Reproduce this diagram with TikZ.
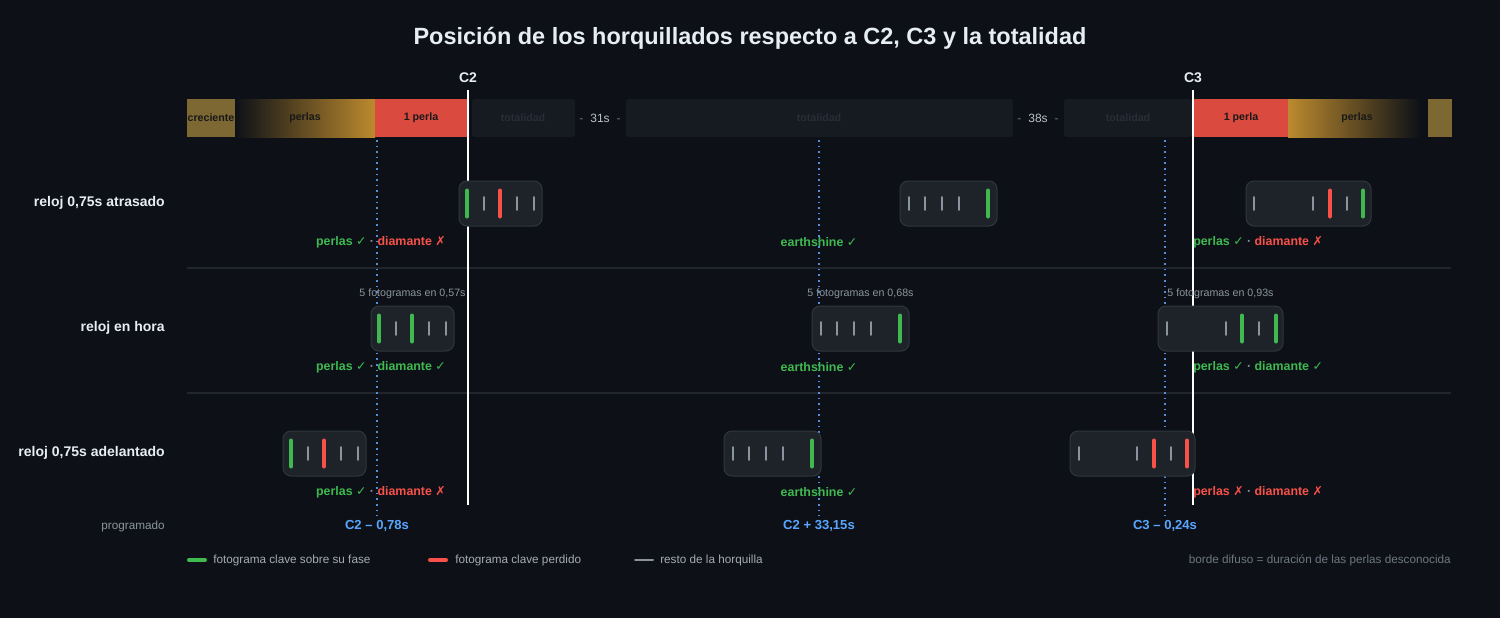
\documentclass[tikz,border=0pt]{standalone}
\usepackage{fontspec}
\setmainfont{Liberation Sans}
\newfontfamily\symfont{DejaVu Sans}

\definecolor{bg}{HTML}{0D1117}
\definecolor{fg}{HTML}{E6EDF3}
\definecolor{dimc}{HTML}{8B949E}
\definecolor{faintc}{HTML}{6E7681}
\definecolor{okc}{HTML}{3FB950}
\definecolor{lostc}{HTML}{F85149}
\definecolor{perlac}{HTML}{DA4A3F}
\definecolor{goldc}{HTML}{BC8A2E}
\definecolor{olivec}{HTML}{7D6833}
\definecolor{totc}{HTML}{161B22}
\definecolor{tottext}{HTML}{272E38}
\definecolor{boxfill}{HTML}{1E232A}
\definecolor{boxline}{HTML}{30363D}
\definecolor{schedc}{HTML}{4F8FDB}
\definecolor{progc}{HTML}{58A6FF}
\definecolor{sepc}{HTML}{21262D}

\newcommand{\ok}{{\symfont ✓}}
\newcommand{\ko}{{\symfont ✗}}
\newcommand{\dotsep}{\textcolor{dimc}{·}}

\tikzset{
  titletext/.style={font=\bfseries\fontsize{17.6}{20}\selectfont, text=fg},
  phaselbl/.style={font=\bfseries\fontsize{10.5}{12}\selectfont, text=fg},
  bartext/.style={font=\bfseries\fontsize{8}{9}\selectfont, text=black!90},
  tottxt/.style={font=\bfseries\fontsize{8}{9}\selectfont, text=tottext},
  gaptxt/.style={font=\fontsize{9}{10}\selectfont, text=fg!80!bg},
  rowlabel/.style={anchor=east, inner xsep=0pt, font=\bfseries\fontsize{10.5}{12}\selectfont, text=fg},
  verdict/.style={font=\bfseries\fontsize{9.3}{11}\selectfont},
  caption/.style={font=\fontsize{8}{9}\selectfont, text=dimc},
  prog/.style={font=\bfseries\fontsize{9.8}{11}\selectfont, text=progc},
  legend/.style={anchor=west, inner xsep=0pt, font=\fontsize{8.8}{10}\selectfont, text=fg!70!bg},
  phaseline/.style={draw=white, line width=1.5pt},
  sched/.style={draw=schedc, line width=0.9pt, dash pattern=on 1.2pt off 3pt},
  sep/.style={draw=sepc, line width=0.9pt},
  hbox/.style={draw=boxline, fill=boxfill, line width=0.75pt, rounded corners=6pt},
  keyok/.style={draw=okc, line width=3pt, line cap=round},
  keylost/.style={draw=lostc, line width=3pt, line cap=round},
  rest/.style={draw=dimc, line width=1.5pt, line cap=round, shorten <=4.9pt, shorten >=4.9pt},
}

\begin{document}
\begin{tikzpicture}[x=0.75pt,y=-0.75pt]
\fill[bg] (0,0) rectangle (1500,618);
\useasboundingbox (0,0) rectangle (1500,618);

% title
\node[titletext] (title) at (750,38) {Posición de los horquillados respecto a C2, C3 y la totalidad};

% phase bar
\fill[olivec] (187,99) rectangle (235,137);
\shade[left color=bg, right color=goldc] (235,99) rectangle (375,137);
\fill[perlac] (375,99) rectangle (468,137);
\fill[totc, rounded corners=2pt] (472,99) rectangle (575,137);
\fill[totc, rounded corners=2pt] (626,99) rectangle (1013,137);
\fill[totc, rounded corners=2pt] (1064,99) rectangle (1192,137);
\fill[perlac] (1194,99) rectangle (1288,137);
\shade[left color=goldc, right color=bg] (1288,99) rectangle (1420,137);
\fill[olivec] (1428,99) rectangle (1452,137);

\node[bartext] (creciente) at (211,118) {creciente};
\node[bartext] (perlasL) at (305,118) {perlas};
\node[bartext] (perlaL) at (421,118) {1 perla};
\node[tottxt] (totA) at (523,118) {totalidad};
\node[gaptxt] (gapA) at (600,118) {\makebox[31pt]{\textcolor{faintc}{-}\hfill 31s\hfill\textcolor{faintc}{-}}};
\node[tottxt] (totB) at (819,118) {totalidad};
\node[gaptxt] (gapB) at (1038,118) {\makebox[31pt]{\textcolor{faintc}{-}\hfill 38s\hfill\textcolor{faintc}{-}}};
\node[tottxt] (totC) at (1128,118) {totalidad};
\node[bartext] (perlaR) at (1241,118) {1 perla};
\node[bartext] (perlasR) at (1357,118) {perlas};

% rows
\node[rowlabel] (atrasado) at (165,203) {reloj 0,75s atrasado};
\node[rowlabel] (enhora) at (165,328) {reloj en hora};
\node[rowlabel] (adelantado) at (165,453) {reloj 0,75s adelantado};
\node[rowlabel, font=\fontsize{8.8}{10}\selectfont, text=dimc] (programado) at (165,526) {programado};

\draw[sep] (187,268) -- (1451,268);
\draw[sep] (187,393) -- (1451,393);

% scheduled instants
\node[prog] (progA) at (377,526) {C2 – 0,78s};
\node[prog] (progB) at (819,526) {C2 + 33,15s};
\node[prog] (progC) at (1165,526) {C3 – 0,24s};
\coordinate (schedA) at (377,140);
\coordinate (schedB) at (819,140);
\coordinate (schedC) at (1165,140);
\draw[sched] (schedA) -- (progA.north);
\draw[sched] (schedB) -- (progB.north);
\draw[sched] (schedC) -- (progC.north);

% contacts
\node[phaselbl] (C2) at (468,78) {C2};
\node[phaselbl] (C3) at (1193,78) {C3};
\coordinate (C2top) at (468,90);
\coordinate (C2bot) at (468,505);
\coordinate (C3top) at (1193,90);
\coordinate (C3bot) at (1193,505);
\draw[phaseline] (C2top) -- (C2bot);
\draw[phaseline] (C3top) -- (C3bot);

% brackets, clock late
\draw[hbox] (459,181) rectangle (542,226);
\foreach \x/\s in {467/keyok,484/rest,500/keylost,517/rest,534/rest}
  \draw[\s] (\x,190.5) -- (\x,216.5);
\draw[hbox] (900,181) rectangle (997,226);
\foreach \x/\s in {909/rest,925/rest,942/rest,959/rest,988/keyok}
  \draw[\s] (\x,190.5) -- (\x,216.5);
\draw[hbox] (1246,181) rectangle (1371,226);
\foreach \x/\s in {1254/rest,1313/rest,1330/keylost,1347/rest,1363/keyok}
  \draw[\s] (\x,190.5) -- (\x,216.5);

% brackets, clock on time
\draw[hbox] (371,306) rectangle (454,351);
\foreach \x/\s in {379/keyok,396/rest,412/keyok,429/rest,446/rest}
  \draw[\s] (\x,315.5) -- (\x,341.5);
\draw[hbox] (812,306) rectangle (909,351);
\foreach \x/\s in {821/rest,837/rest,854/rest,871/rest,900/keyok}
  \draw[\s] (\x,315.5) -- (\x,341.5);
\draw[hbox] (1158,306) rectangle (1283,351);
\foreach \x/\s in {1167/rest,1226/rest,1242/keyok,1259/rest,1276/keyok}
  \draw[\s] (\x,315.5) -- (\x,341.5);

% brackets, clock early
\draw[hbox] (283,431) rectangle (366,476);
\foreach \x/\s in {291/keyok,308/rest,324/keylost,341/rest,358/rest}
  \draw[\s] (\x,440.5) -- (\x,466.5);
\draw[hbox] (724,431) rectangle (821,476);
\foreach \x/\s in {733/rest,749/rest,766/rest,783/rest,812/keyok}
  \draw[\s] (\x,440.5) -- (\x,466.5);
\draw[hbox] (1070,431) rectangle (1195,476);
\foreach \x/\s in {1079/rest,1137/rest,1154/keylost,1171/rest,1187/keylost}
  \draw[\s] (\x,440.5) -- (\x,466.5);

% frame counts
\node[caption] (capA) at (412.5,294) {5 fotogramas en 0,57s};
\node[caption] (capB) at (860.5,294) {5 fotogramas en 0,68s};
\node[caption] (capC) at (1220.5,294) {5 fotogramas en 0,93s};

% verdicts
\node[verdict] (v1a) at (381,242) {\textcolor{okc}{perlas \ok} \dotsep\ \textcolor{lostc}{diamante \ko}};
\node[verdict, text=okc] (v1b) at (819,242) {earthshine \ok};
\node[verdict, anchor=west, inner xsep=0pt] (v1c) at (1193,242) {\textcolor{okc}{perlas \ok} \dotsep\ \textcolor{lostc}{diamante \ko}};
\node[verdict] (v2a) at (381,367) {\textcolor{okc}{perlas \ok} \dotsep\ \textcolor{okc}{diamante \ok}};
\node[verdict, text=okc] (v2b) at (819,367) {earthshine \ok};
\node[verdict, anchor=west, inner xsep=0pt] (v2c) at (1193,367) {\textcolor{okc}{perlas \ok} \dotsep\ \textcolor{okc}{diamante \ok}};
\node[verdict] (v3a) at (381,492) {\textcolor{okc}{perlas \ok} \dotsep\ \textcolor{lostc}{diamante \ko}};
\node[verdict, text=okc] (v3b) at (819,492) {earthshine \ok};
\node[verdict, anchor=west, inner xsep=0pt] (v3c) at (1193,492) {\textcolor{lostc}{perlas \ko} \dotsep\ \textcolor{lostc}{diamante \ko}};

% legend
\draw[keyok] (189,560) -- (205,560);
\node[legend] (legok) at (213,560) {fotograma clave sobre su fase};
\draw[keylost] (430,560) -- (446,560);
\node[legend] (leglost) at (455,560) {fotograma clave perdido};
\draw[rest, shorten <=0pt, shorten >=0pt] (635,560) -- (653,560);
\node[legend] (legrest) at (660,560) {resto de la horquilla};
\node[legend, anchor=east, text=faintc] (legfuzzy) at (1451,560) {borde difuso = duración de las perlas desconocida};
\end{tikzpicture}
\end{document}
